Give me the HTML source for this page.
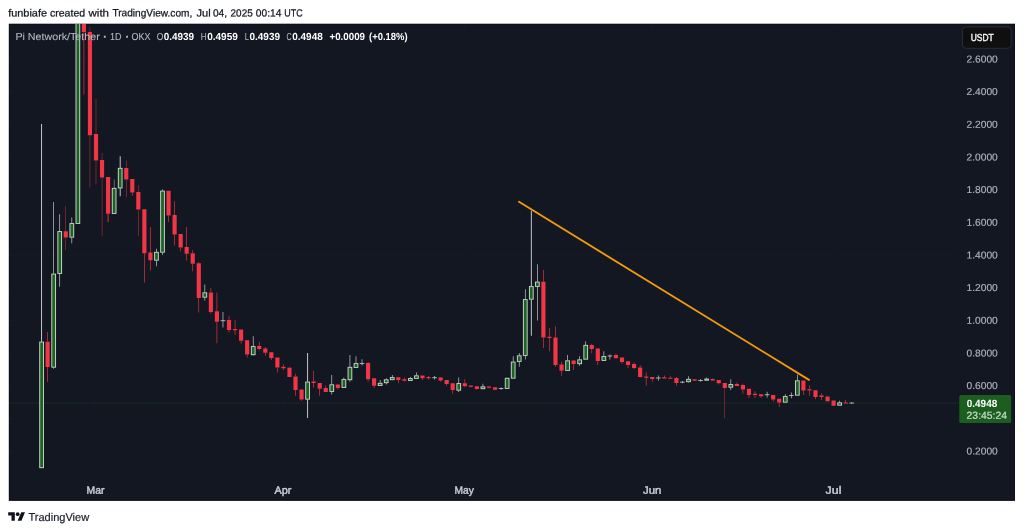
<!DOCTYPE html>
<html lang="en"><head><meta charset="utf-8"><title>PIUSDT chart</title>
<style>html,body{margin:0;padding:0;background:#fff;}body{width:1024px;height:532px;overflow:hidden;position:relative;}svg{display:block;position:absolute;left:0;top:0;}text{font-family:'Liberation Sans', Arial, sans-serif;}</style>
</head><body>
<svg width="1024" height="532" viewBox="0 0 1024 532">
<rect x="0" y="0" width="1024" height="532" fill="#ffffff"/>
<rect x="8.8" y="23.7" width="1006.2" height="477.2" fill="#0c0f19"/>
<rect x="9.8" y="24.7" width="1004.2" height="475.2" fill="#131722"/>
<clipPath id="cp"><rect x="9" y="24" width="1006" height="477"/></clipPath>
<text x="8.20" y="16.40" transform="rotate(0.04 27.6 16.4)" font-size="10.4" fill="#131722" font-weight="normal" stroke="#131722" stroke-width="0.25" textLength="38.80" lengthAdjust="spacingAndGlyphs">funbiafe</text>
<text x="49.90" y="16.40" transform="rotate(0.04 67.5 16.4)" font-size="10.4" fill="#131722" font-weight="normal" stroke="#131722" stroke-width="0.25" textLength="35.30" lengthAdjust="spacingAndGlyphs">created</text>
<text x="88.60" y="16.40" transform="rotate(0.04 98.8 16.4)" font-size="10.4" fill="#131722" font-weight="normal" stroke="#131722" stroke-width="0.25" textLength="20.40" lengthAdjust="spacingAndGlyphs">with</text>
<text x="112.40" y="16.40" transform="rotate(0.04 152.3 16.4)" font-size="10.4" fill="#131722" font-weight="normal" stroke="#131722" stroke-width="0.25" textLength="79.90" lengthAdjust="spacingAndGlyphs">TradingView.com,</text>
<text x="196.50" y="16.40" transform="rotate(0.04 203.6 16.4)" font-size="10.4" fill="#131722" font-weight="normal" stroke="#131722" stroke-width="0.25" textLength="14.10" lengthAdjust="spacingAndGlyphs">Jul</text>
<text x="212.90" y="16.40" transform="rotate(0.04 219.9 16.4)" font-size="10.4" fill="#131722" font-weight="normal" stroke="#131722" stroke-width="0.25" textLength="14.10" lengthAdjust="spacingAndGlyphs">04,</text>
<text x="230.60" y="16.40" transform="rotate(0.04 241.7 16.4)" font-size="10.4" fill="#131722" font-weight="normal" stroke="#131722" stroke-width="0.25" textLength="22.10" lengthAdjust="spacingAndGlyphs">2025</text>
<text x="255.85" y="16.40" transform="rotate(0.04 268.6 16.4)" font-size="10.4" fill="#131722" font-weight="normal" stroke="#131722" stroke-width="0.25" textLength="25.55" lengthAdjust="spacingAndGlyphs">00:14</text>
<text x="284.30" y="16.40" transform="rotate(0.04 293.5 16.4)" font-size="10.4" fill="#131722" font-weight="normal" stroke="#131722" stroke-width="0.25" textLength="18.40" lengthAdjust="spacingAndGlyphs">UTC</text>
<g clip-path="url(#cp)">
<rect x="9" y="58.75" width="948" height="1" fill="#161a26"/>
<rect x="9" y="91.42" width="948" height="1" fill="#161a26"/>
<rect x="9" y="124.09" width="948" height="1" fill="#161a26"/>
<rect x="9" y="156.76" width="948" height="1" fill="#161a26"/>
<rect x="9" y="189.43" width="948" height="1" fill="#161a26"/>
<rect x="9" y="222.10" width="948" height="1" fill="#161a26"/>
<rect x="9" y="254.77" width="948" height="1" fill="#161a26"/>
<rect x="9" y="287.44" width="948" height="1" fill="#161a26"/>
<rect x="9" y="320.11" width="948" height="1" fill="#161a26"/>
<rect x="9" y="352.78" width="948" height="1" fill="#161a26"/>
<rect x="9" y="385.45" width="948" height="1" fill="#161a26"/>
<rect x="9" y="418.12" width="948" height="1" fill="#161a26"/>
<rect x="9" y="450.79" width="948" height="1" fill="#161a26"/>
<rect x="95.30" y="24" width="1" height="456" fill="#161a26"/>
<rect x="282.80" y="24" width="1" height="456" fill="#161a26"/>
<rect x="464.30" y="24" width="1" height="456" fill="#161a26"/>
<rect x="651.80" y="24" width="1" height="456" fill="#161a26"/>
<rect x="833.30" y="24" width="1" height="456" fill="#161a26"/>
<line x1="9" y1="403.1" x2="959" y2="403.1" stroke="#1b3a28" stroke-width="1" stroke-dasharray="1.1 0.8"/>
<rect x="41.14" y="124.00" width="0.90" height="217.75" fill="#d4d7dd"/>
<rect x="39.24" y="341.60" width="4.70" height="126.55" fill="#c9d6cb"/>
<rect x="40.19" y="342.50" width="2.80" height="124.75" fill="#1c6322"/>
<rect x="47.31" y="332.00" width="0.64" height="9.75" fill="#f23645"/>
<rect x="47.31" y="367.00" width="0.64" height="15.00" fill="#f23645"/>
<rect x="45.56" y="341.75" width="4.15" height="25.25" fill="#f23645"/>
<rect x="53.36" y="202.00" width="0.64" height="71.75" fill="#d4d7dd"/>
<rect x="53.36" y="367.50" width="0.64" height="1.25" fill="#d4d7dd"/>
<rect x="51.33" y="273.60" width="4.70" height="94.05" fill="#c9d6cb"/>
<rect x="52.28" y="274.50" width="2.80" height="92.25" fill="#1c6322"/>
<rect x="59.40" y="214.25" width="0.64" height="17.00" fill="#d4d7dd"/>
<rect x="59.40" y="273.75" width="0.64" height="13.00" fill="#d4d7dd"/>
<rect x="57.37" y="231.10" width="4.70" height="42.80" fill="#c9d6cb"/>
<rect x="58.32" y="232.00" width="2.80" height="41.00" fill="#1c6322"/>
<rect x="65.56" y="206.25" width="0.42" height="25.00" fill="#f23645"/>
<rect x="65.56" y="237.50" width="0.42" height="12.50" fill="#f23645"/>
<rect x="63.69" y="231.25" width="4.15" height="6.25" fill="#f23645"/>
<rect x="71.50" y="217.50" width="0.64" height="5.75" fill="#d4d7dd"/>
<rect x="71.50" y="237.50" width="0.64" height="5.75" fill="#d4d7dd"/>
<rect x="69.47" y="223.10" width="4.70" height="14.55" fill="#c9d6cb"/>
<rect x="70.42" y="224.00" width="2.80" height="12.75" fill="#1c6322"/>
<rect x="75.51" y="19.85" width="4.70" height="204.05" fill="#c9d6cb"/>
<rect x="76.46" y="20.75" width="2.80" height="202.25" fill="#1c6322"/>
<rect x="83.59" y="32.00" width="0.64" height="62.75" fill="#f23645"/>
<rect x="81.83" y="20.00" width="4.15" height="12.00" fill="#f23645"/>
<rect x="89.74" y="27.00" width="0.42" height="5.00" fill="#f23645"/>
<rect x="89.74" y="135.25" width="0.42" height="52.25" fill="#f23645"/>
<rect x="87.88" y="32.00" width="4.15" height="103.25" fill="#f23645"/>
<rect x="95.79" y="99.00" width="0.42" height="35.00" fill="#f23645"/>
<rect x="95.79" y="160.50" width="0.42" height="24.00" fill="#f23645"/>
<rect x="93.92" y="134.00" width="4.15" height="26.50" fill="#f23645"/>
<rect x="101.84" y="153.00" width="0.42" height="7.00" fill="#f23645"/>
<rect x="101.84" y="177.50" width="0.42" height="58.50" fill="#f23645"/>
<rect x="99.97" y="160.00" width="4.15" height="17.50" fill="#f23645"/>
<rect x="107.64" y="213.75" width="0.90" height="8.25" fill="#f23645"/>
<rect x="106.02" y="177.00" width="4.15" height="36.75" fill="#f23645"/>
<rect x="113.93" y="179.50" width="0.42" height="8.50" fill="#d4d7dd"/>
<rect x="111.79" y="187.85" width="4.70" height="26.05" fill="#c9d6cb"/>
<rect x="112.74" y="188.75" width="2.80" height="24.25" fill="#1c6322"/>
<rect x="119.73" y="156.25" width="0.90" height="11.75" fill="#d4d7dd"/>
<rect x="119.73" y="188.25" width="0.90" height="8.00" fill="#d4d7dd"/>
<rect x="117.83" y="167.85" width="4.70" height="20.55" fill="#c9d6cb"/>
<rect x="118.78" y="168.75" width="2.80" height="18.75" fill="#1c6322"/>
<rect x="126.02" y="160.50" width="0.42" height="7.50" fill="#f23645"/>
<rect x="126.02" y="179.50" width="0.42" height="18.00" fill="#f23645"/>
<rect x="124.16" y="168.00" width="4.15" height="11.50" fill="#f23645"/>
<rect x="131.96" y="192.50" width="0.64" height="3.25" fill="#f23645"/>
<rect x="130.20" y="179.00" width="4.15" height="13.50" fill="#f23645"/>
<rect x="138.11" y="185.00" width="0.42" height="7.00" fill="#f23645"/>
<rect x="138.11" y="209.50" width="0.42" height="26.75" fill="#f23645"/>
<rect x="136.25" y="192.00" width="4.15" height="17.50" fill="#f23645"/>
<rect x="144.05" y="253.25" width="0.64" height="29.25" fill="#f23645"/>
<rect x="142.29" y="209.25" width="4.15" height="44.00" fill="#f23645"/>
<rect x="150.09" y="227.00" width="0.64" height="25.50" fill="#f23645"/>
<rect x="150.09" y="260.25" width="0.64" height="10.25" fill="#f23645"/>
<rect x="148.34" y="252.50" width="4.15" height="7.75" fill="#f23645"/>
<rect x="156.14" y="248.75" width="0.64" height="3.25" fill="#d4d7dd"/>
<rect x="156.14" y="260.50" width="0.64" height="5.75" fill="#d4d7dd"/>
<rect x="154.11" y="251.85" width="4.70" height="8.80" fill="#c9d6cb"/>
<rect x="155.06" y="252.75" width="2.80" height="7.00" fill="#1c6322"/>
<rect x="162.19" y="189.50" width="0.64" height="1.25" fill="#d4d7dd"/>
<rect x="162.19" y="252.50" width="0.64" height="2.50" fill="#d4d7dd"/>
<rect x="160.16" y="190.60" width="4.70" height="62.05" fill="#c9d6cb"/>
<rect x="161.11" y="191.50" width="2.80" height="60.25" fill="#1c6322"/>
<rect x="168.23" y="215.50" width="0.64" height="6.50" fill="#f23645"/>
<rect x="166.48" y="190.75" width="4.15" height="24.75" fill="#f23645"/>
<rect x="174.28" y="201.25" width="0.64" height="13.75" fill="#f23645"/>
<rect x="174.28" y="234.50" width="0.64" height="11.00" fill="#f23645"/>
<rect x="172.52" y="215.00" width="4.15" height="19.50" fill="#f23645"/>
<rect x="180.32" y="247.50" width="0.64" height="3.75" fill="#f23645"/>
<rect x="178.57" y="234.00" width="4.15" height="13.50" fill="#f23645"/>
<rect x="186.37" y="227.00" width="0.64" height="20.00" fill="#f23645"/>
<rect x="186.37" y="253.75" width="0.64" height="6.75" fill="#f23645"/>
<rect x="184.62" y="247.00" width="4.15" height="6.75" fill="#f23645"/>
<rect x="192.42" y="250.00" width="0.64" height="3.25" fill="#f23645"/>
<rect x="192.42" y="263.75" width="0.64" height="7.50" fill="#f23645"/>
<rect x="190.66" y="253.25" width="4.15" height="10.50" fill="#f23645"/>
<rect x="198.46" y="262.00" width="0.64" height="1.25" fill="#f23645"/>
<rect x="198.46" y="298.00" width="0.64" height="14.50" fill="#f23645"/>
<rect x="196.71" y="263.25" width="4.15" height="34.75" fill="#f23645"/>
<rect x="204.51" y="284.50" width="0.64" height="8.00" fill="#d4d7dd"/>
<rect x="204.51" y="297.50" width="0.64" height="3.00" fill="#d4d7dd"/>
<rect x="202.48" y="292.35" width="4.70" height="5.30" fill="#c9d6cb"/>
<rect x="203.43" y="293.25" width="2.80" height="3.50" fill="#1c6322"/>
<rect x="210.55" y="288.00" width="0.64" height="4.50" fill="#f23645"/>
<rect x="210.55" y="312.00" width="0.64" height="1.75" fill="#f23645"/>
<rect x="208.80" y="292.50" width="4.15" height="19.50" fill="#f23645"/>
<rect x="216.60" y="292.50" width="0.64" height="18.75" fill="#f23645"/>
<rect x="216.60" y="321.75" width="0.64" height="21.50" fill="#f23645"/>
<rect x="214.85" y="311.25" width="4.15" height="10.50" fill="#f23645"/>
<rect x="222.65" y="312.00" width="0.64" height="8.00" fill="#d4d7dd"/>
<rect x="222.65" y="321.50" width="0.64" height="6.00" fill="#d4d7dd"/>
<rect x="222.65" y="319.90" width="0.64" height="1.70" fill="#d4d7dd"/>
<rect x="220.62" y="320.35" width="4.70" height="0.80" fill="#c9d6cb"/>
<rect x="228.69" y="316.25" width="0.64" height="3.75" fill="#f23645"/>
<rect x="228.69" y="330.00" width="0.64" height="2.50" fill="#f23645"/>
<rect x="226.94" y="320.00" width="4.15" height="10.00" fill="#f23645"/>
<rect x="234.74" y="320.00" width="0.64" height="9.00" fill="#f23645"/>
<rect x="234.74" y="330.25" width="0.64" height="4.75" fill="#f23645"/>
<rect x="232.98" y="329.00" width="4.15" height="1.25" fill="#f23645"/>
<rect x="240.78" y="340.75" width="0.64" height="3.00" fill="#f23645"/>
<rect x="239.03" y="329.50" width="4.15" height="11.25" fill="#f23645"/>
<rect x="246.83" y="354.50" width="0.64" height="3.00" fill="#f23645"/>
<rect x="245.08" y="340.25" width="4.15" height="14.25" fill="#f23645"/>
<rect x="252.88" y="336.25" width="0.64" height="10.00" fill="#d4d7dd"/>
<rect x="252.88" y="355.00" width="0.64" height="0.50" fill="#d4d7dd"/>
<rect x="250.85" y="346.10" width="4.70" height="9.05" fill="#c9d6cb"/>
<rect x="251.80" y="347.00" width="2.80" height="7.25" fill="#1c6322"/>
<rect x="258.92" y="341.75" width="0.64" height="4.25" fill="#f23645"/>
<rect x="258.92" y="349.00" width="0.64" height="1.50" fill="#f23645"/>
<rect x="257.17" y="346.00" width="4.15" height="3.00" fill="#f23645"/>
<rect x="264.97" y="347.00" width="0.64" height="1.50" fill="#f23645"/>
<rect x="264.97" y="352.75" width="0.64" height="3.00" fill="#f23645"/>
<rect x="263.21" y="348.50" width="4.15" height="4.25" fill="#f23645"/>
<rect x="271.01" y="358.00" width="0.64" height="2.00" fill="#f23645"/>
<rect x="269.26" y="352.25" width="4.15" height="5.75" fill="#f23645"/>
<rect x="277.06" y="367.50" width="0.64" height="5.00" fill="#f23645"/>
<rect x="275.31" y="357.50" width="4.15" height="10.00" fill="#f23645"/>
<rect x="283.11" y="364.50" width="0.64" height="2.25" fill="#f23645"/>
<rect x="283.11" y="368.25" width="0.64" height="1.75" fill="#f23645"/>
<rect x="281.35" y="366.75" width="4.15" height="1.50" fill="#f23645"/>
<rect x="289.15" y="366.75" width="0.64" height="1.00" fill="#f23645"/>
<rect x="287.40" y="367.75" width="4.15" height="9.25" fill="#f23645"/>
<rect x="295.20" y="373.75" width="0.64" height="2.75" fill="#f23645"/>
<rect x="295.20" y="390.00" width="0.64" height="5.75" fill="#f23645"/>
<rect x="293.44" y="376.50" width="4.15" height="13.50" fill="#f23645"/>
<rect x="301.24" y="399.50" width="0.64" height="1.25" fill="#f23645"/>
<rect x="299.49" y="389.50" width="4.15" height="10.00" fill="#f23645"/>
<rect x="307.16" y="353.00" width="0.90" height="28.75" fill="#d4d7dd"/>
<rect x="307.16" y="399.50" width="0.90" height="18.50" fill="#d4d7dd"/>
<rect x="305.26" y="381.60" width="4.70" height="18.05" fill="#c9d6cb"/>
<rect x="306.21" y="382.50" width="2.80" height="16.25" fill="#1c6322"/>
<rect x="313.34" y="370.75" width="0.64" height="10.75" fill="#f23645"/>
<rect x="313.34" y="383.00" width="0.64" height="4.75" fill="#f23645"/>
<rect x="311.58" y="381.50" width="4.15" height="1.50" fill="#f23645"/>
<rect x="319.38" y="388.75" width="0.64" height="7.00" fill="#f23645"/>
<rect x="317.63" y="383.00" width="4.15" height="5.75" fill="#f23645"/>
<rect x="325.43" y="385.50" width="0.64" height="2.50" fill="#f23645"/>
<rect x="323.67" y="388.00" width="4.15" height="4.00" fill="#f23645"/>
<rect x="331.47" y="375.00" width="0.64" height="9.50" fill="#d4d7dd"/>
<rect x="331.47" y="391.75" width="0.64" height="2.75" fill="#d4d7dd"/>
<rect x="329.44" y="384.35" width="4.70" height="7.55" fill="#c9d6cb"/>
<rect x="330.39" y="385.25" width="2.80" height="5.75" fill="#1c6322"/>
<rect x="337.52" y="388.00" width="0.64" height="1.50" fill="#f23645"/>
<rect x="335.77" y="384.50" width="4.15" height="3.50" fill="#f23645"/>
<rect x="343.57" y="377.50" width="0.64" height="1.75" fill="#d4d7dd"/>
<rect x="341.54" y="379.10" width="4.70" height="8.80" fill="#c9d6cb"/>
<rect x="342.49" y="380.00" width="2.80" height="7.00" fill="#1c6322"/>
<rect x="349.61" y="355.00" width="0.64" height="12.00" fill="#d4d7dd"/>
<rect x="349.61" y="380.00" width="0.64" height="1.75" fill="#d4d7dd"/>
<rect x="347.58" y="366.85" width="4.70" height="13.30" fill="#c9d6cb"/>
<rect x="348.53" y="367.75" width="2.80" height="11.50" fill="#1c6322"/>
<rect x="355.66" y="356.25" width="0.64" height="7.00" fill="#d4d7dd"/>
<rect x="353.63" y="363.10" width="4.70" height="4.80" fill="#c9d6cb"/>
<rect x="354.58" y="364.00" width="2.80" height="3.00" fill="#1c6322"/>
<rect x="361.70" y="359.25" width="0.64" height="3.75" fill="#d4d7dd"/>
<rect x="361.70" y="364.00" width="0.64" height="1.50" fill="#d4d7dd"/>
<rect x="361.70" y="362.90" width="0.64" height="1.20" fill="#d4d7dd"/>
<rect x="359.67" y="363.10" width="4.70" height="0.80" fill="#c9d6cb"/>
<rect x="367.75" y="362.00" width="0.64" height="1.00" fill="#f23645"/>
<rect x="367.75" y="379.25" width="0.64" height="2.50" fill="#f23645"/>
<rect x="366.00" y="363.00" width="4.15" height="16.25" fill="#f23645"/>
<rect x="373.80" y="385.75" width="0.64" height="2.25" fill="#f23645"/>
<rect x="372.04" y="378.25" width="4.15" height="7.50" fill="#f23645"/>
<rect x="379.84" y="380.00" width="0.64" height="3.00" fill="#d4d7dd"/>
<rect x="377.81" y="382.85" width="4.70" height="3.05" fill="#c9d6cb"/>
<rect x="378.76" y="383.75" width="2.80" height="1.25" fill="#1c6322"/>
<rect x="385.89" y="378.25" width="0.64" height="1.25" fill="#d4d7dd"/>
<rect x="385.89" y="383.00" width="0.64" height="1.50" fill="#d4d7dd"/>
<rect x="383.86" y="379.35" width="4.70" height="3.80" fill="#c9d6cb"/>
<rect x="384.81" y="380.25" width="2.80" height="2.00" fill="#1c6322"/>
<rect x="391.93" y="375.00" width="0.64" height="2.25" fill="#d4d7dd"/>
<rect x="389.90" y="377.10" width="4.70" height="3.05" fill="#c9d6cb"/>
<rect x="390.85" y="378.00" width="2.80" height="1.25" fill="#1c6322"/>
<rect x="397.98" y="380.00" width="0.64" height="3.00" fill="#f23645"/>
<rect x="396.23" y="377.25" width="4.15" height="2.75" fill="#f23645"/>
<rect x="404.03" y="377.50" width="0.64" height="1.75" fill="#f23645"/>
<rect x="404.03" y="380.75" width="0.64" height="0.75" fill="#f23645"/>
<rect x="402.27" y="379.25" width="4.15" height="1.50" fill="#f23645"/>
<rect x="410.07" y="377.00" width="0.64" height="1.25" fill="#d4d7dd"/>
<rect x="408.04" y="378.10" width="4.70" height="2.80" fill="#c9d6cb"/>
<rect x="408.99" y="379.00" width="2.80" height="1.00" fill="#1c6322"/>
<rect x="416.12" y="372.50" width="0.64" height="3.00" fill="#d4d7dd"/>
<rect x="414.09" y="375.35" width="4.70" height="3.55" fill="#c9d6cb"/>
<rect x="415.04" y="376.25" width="2.80" height="1.75" fill="#1c6322"/>
<rect x="422.16" y="378.25" width="0.64" height="1.75" fill="#f23645"/>
<rect x="420.41" y="375.50" width="4.15" height="2.75" fill="#f23645"/>
<rect x="428.21" y="376.00" width="0.64" height="1.00" fill="#f23645"/>
<rect x="428.21" y="378.25" width="0.64" height="1.25" fill="#f23645"/>
<rect x="426.46" y="377.00" width="4.15" height="1.25" fill="#f23645"/>
<rect x="434.26" y="376.00" width="0.64" height="1.25" fill="#d4d7dd"/>
<rect x="434.26" y="378.25" width="0.64" height="1.25" fill="#d4d7dd"/>
<rect x="434.26" y="377.15" width="0.64" height="1.20" fill="#d4d7dd"/>
<rect x="432.23" y="377.35" width="4.70" height="0.80" fill="#c9d6cb"/>
<rect x="440.30" y="377.00" width="0.64" height="0.50" fill="#f23645"/>
<rect x="440.30" y="380.50" width="0.64" height="1.25" fill="#f23645"/>
<rect x="438.55" y="377.50" width="4.15" height="3.00" fill="#f23645"/>
<rect x="446.35" y="384.00" width="0.64" height="1.75" fill="#f23645"/>
<rect x="444.59" y="380.00" width="4.15" height="4.00" fill="#f23645"/>
<rect x="452.39" y="390.00" width="0.64" height="3.75" fill="#f23645"/>
<rect x="450.64" y="383.25" width="4.15" height="6.75" fill="#f23645"/>
<rect x="458.44" y="377.50" width="0.64" height="5.75" fill="#d4d7dd"/>
<rect x="458.44" y="390.50" width="0.64" height="1.50" fill="#d4d7dd"/>
<rect x="456.41" y="383.10" width="4.70" height="7.55" fill="#c9d6cb"/>
<rect x="457.36" y="384.00" width="2.80" height="5.75" fill="#1c6322"/>
<rect x="464.49" y="379.25" width="0.64" height="4.00" fill="#f23645"/>
<rect x="464.49" y="386.25" width="0.64" height="0.75" fill="#f23645"/>
<rect x="462.73" y="383.25" width="4.15" height="3.00" fill="#f23645"/>
<rect x="470.53" y="385.00" width="0.64" height="0.50" fill="#f23645"/>
<rect x="470.53" y="386.75" width="0.64" height="0.75" fill="#f23645"/>
<rect x="468.78" y="385.50" width="4.15" height="1.25" fill="#f23645"/>
<rect x="476.58" y="389.00" width="0.64" height="0.50" fill="#f23645"/>
<rect x="474.82" y="386.25" width="4.15" height="2.75" fill="#f23645"/>
<rect x="482.62" y="383.75" width="0.64" height="2.75" fill="#d4d7dd"/>
<rect x="480.59" y="386.35" width="4.70" height="2.80" fill="#c9d6cb"/>
<rect x="481.54" y="387.25" width="2.80" height="1.00" fill="#1c6322"/>
<rect x="488.67" y="386.00" width="0.64" height="0.50" fill="#f23645"/>
<rect x="488.67" y="387.75" width="0.64" height="0.75" fill="#f23645"/>
<rect x="486.92" y="386.50" width="4.15" height="1.25" fill="#f23645"/>
<rect x="494.72" y="389.75" width="0.64" height="0.50" fill="#f23645"/>
<rect x="492.96" y="387.25" width="4.15" height="2.50" fill="#f23645"/>
<rect x="500.76" y="387.50" width="0.64" height="0.50" fill="#d4d7dd"/>
<rect x="500.76" y="389.00" width="0.64" height="0.75" fill="#d4d7dd"/>
<rect x="500.76" y="387.90" width="0.64" height="1.20" fill="#d4d7dd"/>
<rect x="498.73" y="388.10" width="4.70" height="0.80" fill="#c9d6cb"/>
<rect x="506.81" y="377.50" width="0.64" height="0.50" fill="#d4d7dd"/>
<rect x="504.78" y="377.85" width="4.70" height="11.05" fill="#c9d6cb"/>
<rect x="505.73" y="378.75" width="2.80" height="9.25" fill="#1c6322"/>
<rect x="512.85" y="356.25" width="0.64" height="5.50" fill="#d4d7dd"/>
<rect x="510.82" y="361.60" width="4.70" height="17.05" fill="#c9d6cb"/>
<rect x="511.77" y="362.50" width="2.80" height="15.25" fill="#1c6322"/>
<rect x="518.90" y="353.00" width="0.64" height="2.50" fill="#d4d7dd"/>
<rect x="518.90" y="361.75" width="0.64" height="5.00" fill="#d4d7dd"/>
<rect x="516.87" y="355.35" width="4.70" height="6.55" fill="#c9d6cb"/>
<rect x="517.82" y="356.25" width="2.80" height="4.75" fill="#1c6322"/>
<rect x="524.95" y="289.25" width="0.64" height="10.00" fill="#d4d7dd"/>
<rect x="524.95" y="355.75" width="0.64" height="3.75" fill="#d4d7dd"/>
<rect x="522.92" y="299.10" width="4.70" height="56.80" fill="#c9d6cb"/>
<rect x="523.87" y="300.00" width="2.80" height="55.00" fill="#1c6322"/>
<rect x="530.86" y="210.75" width="0.90" height="75.50" fill="#d4d7dd"/>
<rect x="530.86" y="299.50" width="0.90" height="36.25" fill="#d4d7dd"/>
<rect x="528.96" y="286.10" width="4.70" height="13.55" fill="#c9d6cb"/>
<rect x="529.91" y="287.00" width="2.80" height="11.75" fill="#1c6322"/>
<rect x="537.04" y="264.25" width="0.64" height="17.50" fill="#d4d7dd"/>
<rect x="537.04" y="286.75" width="0.64" height="33.75" fill="#d4d7dd"/>
<rect x="535.01" y="281.60" width="4.70" height="5.30" fill="#c9d6cb"/>
<rect x="535.96" y="282.50" width="2.80" height="3.50" fill="#1c6322"/>
<rect x="543.08" y="270.00" width="0.64" height="11.75" fill="#f23645"/>
<rect x="543.08" y="337.50" width="0.64" height="10.50" fill="#f23645"/>
<rect x="541.33" y="281.75" width="4.15" height="55.75" fill="#f23645"/>
<rect x="549.13" y="328.00" width="0.64" height="8.75" fill="#f23645"/>
<rect x="549.13" y="338.00" width="0.64" height="13.25" fill="#f23645"/>
<rect x="547.38" y="336.75" width="4.15" height="1.25" fill="#f23645"/>
<rect x="555.18" y="326.25" width="0.64" height="11.25" fill="#f23645"/>
<rect x="555.18" y="365.00" width="0.64" height="1.75" fill="#f23645"/>
<rect x="553.42" y="337.50" width="4.15" height="27.50" fill="#f23645"/>
<rect x="561.22" y="361.75" width="0.64" height="2.75" fill="#f23645"/>
<rect x="561.22" y="370.75" width="0.64" height="5.00" fill="#f23645"/>
<rect x="559.47" y="364.50" width="4.15" height="6.25" fill="#f23645"/>
<rect x="567.27" y="355.00" width="0.64" height="5.50" fill="#d4d7dd"/>
<rect x="565.24" y="360.35" width="4.70" height="10.55" fill="#c9d6cb"/>
<rect x="566.19" y="361.25" width="2.80" height="8.75" fill="#1c6322"/>
<rect x="573.31" y="364.00" width="0.64" height="6.00" fill="#f23645"/>
<rect x="571.56" y="360.50" width="4.15" height="3.50" fill="#f23645"/>
<rect x="579.36" y="356.25" width="0.64" height="3.25" fill="#d4d7dd"/>
<rect x="579.36" y="364.00" width="0.64" height="1.75" fill="#d4d7dd"/>
<rect x="577.33" y="359.35" width="4.70" height="4.80" fill="#c9d6cb"/>
<rect x="578.28" y="360.25" width="2.80" height="3.00" fill="#1c6322"/>
<rect x="585.41" y="341.25" width="0.64" height="3.75" fill="#d4d7dd"/>
<rect x="583.38" y="344.85" width="4.70" height="14.80" fill="#c9d6cb"/>
<rect x="584.33" y="345.75" width="2.80" height="13.00" fill="#1c6322"/>
<rect x="591.45" y="343.75" width="0.64" height="1.25" fill="#f23645"/>
<rect x="591.45" y="349.00" width="0.64" height="4.25" fill="#f23645"/>
<rect x="589.70" y="345.00" width="4.15" height="4.00" fill="#f23645"/>
<rect x="597.50" y="361.00" width="0.64" height="4.00" fill="#f23645"/>
<rect x="595.74" y="348.50" width="4.15" height="12.50" fill="#f23645"/>
<rect x="603.54" y="351.25" width="0.64" height="5.00" fill="#d4d7dd"/>
<rect x="601.51" y="356.10" width="4.70" height="4.80" fill="#c9d6cb"/>
<rect x="602.46" y="357.00" width="2.80" height="3.00" fill="#1c6322"/>
<rect x="609.59" y="354.50" width="0.64" height="1.00" fill="#d4d7dd"/>
<rect x="609.59" y="356.50" width="0.64" height="3.00" fill="#d4d7dd"/>
<rect x="609.59" y="355.40" width="0.64" height="1.20" fill="#d4d7dd"/>
<rect x="607.56" y="355.60" width="4.70" height="0.80" fill="#c9d6cb"/>
<rect x="615.64" y="353.75" width="0.64" height="1.25" fill="#f23645"/>
<rect x="613.88" y="355.00" width="4.15" height="3.25" fill="#f23645"/>
<rect x="621.68" y="362.00" width="0.64" height="1.75" fill="#f23645"/>
<rect x="619.93" y="357.50" width="4.15" height="4.50" fill="#f23645"/>
<rect x="627.73" y="365.00" width="0.64" height="3.00" fill="#f23645"/>
<rect x="625.97" y="361.25" width="4.15" height="3.75" fill="#f23645"/>
<rect x="633.77" y="362.50" width="0.64" height="1.50" fill="#f23645"/>
<rect x="633.77" y="368.00" width="0.64" height="1.00" fill="#f23645"/>
<rect x="632.02" y="364.00" width="4.15" height="4.00" fill="#f23645"/>
<rect x="639.82" y="365.00" width="0.64" height="2.50" fill="#f23645"/>
<rect x="639.82" y="377.00" width="0.64" height="0.50" fill="#f23645"/>
<rect x="638.06" y="367.50" width="4.15" height="9.50" fill="#f23645"/>
<rect x="645.87" y="372.50" width="0.64" height="4.00" fill="#f23645"/>
<rect x="645.87" y="377.75" width="0.64" height="8.00" fill="#f23645"/>
<rect x="644.11" y="376.50" width="4.15" height="1.25" fill="#f23645"/>
<rect x="651.91" y="379.00" width="0.64" height="2.75" fill="#f23645"/>
<rect x="650.16" y="377.00" width="4.15" height="2.00" fill="#f23645"/>
<rect x="657.96" y="375.50" width="0.64" height="2.00" fill="#d4d7dd"/>
<rect x="657.96" y="378.50" width="0.64" height="2.25" fill="#d4d7dd"/>
<rect x="657.96" y="377.40" width="0.64" height="1.20" fill="#d4d7dd"/>
<rect x="655.93" y="377.60" width="4.70" height="0.80" fill="#c9d6cb"/>
<rect x="664.00" y="375.50" width="0.64" height="1.75" fill="#f23645"/>
<rect x="662.25" y="377.25" width="4.15" height="1.25" fill="#f23645"/>
<rect x="670.05" y="376.25" width="0.64" height="1.50" fill="#f23645"/>
<rect x="668.29" y="377.75" width="4.15" height="1.00" fill="#f23645"/>
<rect x="676.10" y="377.00" width="0.64" height="1.00" fill="#f23645"/>
<rect x="676.10" y="383.00" width="0.64" height="2.75" fill="#f23645"/>
<rect x="674.34" y="378.00" width="4.15" height="5.00" fill="#f23645"/>
<rect x="682.14" y="381.00" width="0.64" height="0.50" fill="#d4d7dd"/>
<rect x="682.14" y="382.75" width="0.64" height="0.50" fill="#d4d7dd"/>
<rect x="682.14" y="381.40" width="0.64" height="1.45" fill="#d4d7dd"/>
<rect x="680.11" y="381.73" width="4.70" height="0.80" fill="#c9d6cb"/>
<rect x="688.19" y="376.25" width="0.64" height="2.75" fill="#d4d7dd"/>
<rect x="688.19" y="382.00" width="0.64" height="0.50" fill="#d4d7dd"/>
<rect x="686.16" y="378.85" width="4.70" height="3.30" fill="#c9d6cb"/>
<rect x="687.11" y="379.75" width="2.80" height="1.50" fill="#1c6322"/>
<rect x="694.23" y="379.00" width="0.64" height="0.25" fill="#f23645"/>
<rect x="694.23" y="380.75" width="0.64" height="0.25" fill="#f23645"/>
<rect x="692.48" y="379.25" width="4.15" height="1.50" fill="#f23645"/>
<rect x="700.28" y="379.00" width="0.64" height="0.75" fill="#d4d7dd"/>
<rect x="700.28" y="381.00" width="0.64" height="0.50" fill="#d4d7dd"/>
<rect x="700.28" y="379.65" width="0.64" height="1.45" fill="#d4d7dd"/>
<rect x="698.25" y="379.98" width="4.70" height="0.80" fill="#c9d6cb"/>
<rect x="706.33" y="377.50" width="0.64" height="1.25" fill="#d4d7dd"/>
<rect x="704.30" y="378.60" width="4.70" height="2.05" fill="#c9d6cb"/>
<rect x="705.25" y="379.50" width="2.80" height="0.25" fill="#1c6322"/>
<rect x="712.37" y="378.50" width="0.64" height="0.50" fill="#f23645"/>
<rect x="712.37" y="380.50" width="0.64" height="0.25" fill="#f23645"/>
<rect x="710.62" y="379.00" width="4.15" height="1.50" fill="#f23645"/>
<rect x="718.42" y="383.25" width="0.64" height="1.25" fill="#f23645"/>
<rect x="716.66" y="380.00" width="4.15" height="3.25" fill="#f23645"/>
<rect x="724.57" y="388.00" width="0.42" height="30.00" fill="#f23645"/>
<rect x="722.71" y="383.00" width="4.15" height="5.00" fill="#f23645"/>
<rect x="730.51" y="379.25" width="0.64" height="5.00" fill="#d4d7dd"/>
<rect x="730.51" y="387.50" width="0.64" height="2.50" fill="#d4d7dd"/>
<rect x="728.48" y="384.10" width="4.70" height="3.55" fill="#c9d6cb"/>
<rect x="729.43" y="385.00" width="2.80" height="1.75" fill="#1c6322"/>
<rect x="736.56" y="382.50" width="0.64" height="1.50" fill="#f23645"/>
<rect x="736.56" y="386.00" width="0.64" height="0.25" fill="#f23645"/>
<rect x="734.80" y="384.00" width="4.15" height="2.00" fill="#f23645"/>
<rect x="742.60" y="383.75" width="0.64" height="1.25" fill="#f23645"/>
<rect x="742.60" y="389.50" width="0.64" height="4.25" fill="#f23645"/>
<rect x="740.85" y="385.00" width="4.15" height="4.50" fill="#f23645"/>
<rect x="748.65" y="395.00" width="0.64" height="3.00" fill="#f23645"/>
<rect x="746.89" y="388.75" width="4.15" height="6.25" fill="#f23645"/>
<rect x="754.69" y="391.25" width="0.64" height="2.50" fill="#f23645"/>
<rect x="754.69" y="395.00" width="0.64" height="3.00" fill="#f23645"/>
<rect x="752.94" y="393.75" width="4.15" height="1.25" fill="#f23645"/>
<rect x="760.74" y="394.00" width="0.64" height="0.25" fill="#f23645"/>
<rect x="760.74" y="396.25" width="0.64" height="1.75" fill="#f23645"/>
<rect x="758.99" y="394.25" width="4.15" height="2.00" fill="#f23645"/>
<rect x="766.79" y="391.75" width="0.64" height="2.50" fill="#d4d7dd"/>
<rect x="766.79" y="395.25" width="0.64" height="2.25" fill="#d4d7dd"/>
<rect x="766.79" y="394.15" width="0.64" height="1.20" fill="#d4d7dd"/>
<rect x="764.76" y="394.35" width="4.70" height="0.80" fill="#c9d6cb"/>
<rect x="772.83" y="399.50" width="0.64" height="2.25" fill="#f23645"/>
<rect x="771.08" y="395.00" width="4.15" height="4.50" fill="#f23645"/>
<rect x="778.88" y="402.50" width="0.64" height="4.50" fill="#f23645"/>
<rect x="777.12" y="398.75" width="4.15" height="3.75" fill="#f23645"/>
<rect x="784.92" y="394.25" width="0.64" height="2.00" fill="#d4d7dd"/>
<rect x="782.89" y="396.10" width="4.70" height="6.55" fill="#c9d6cb"/>
<rect x="783.84" y="397.00" width="2.80" height="4.75" fill="#1c6322"/>
<rect x="790.97" y="392.50" width="0.64" height="2.00" fill="#d4d7dd"/>
<rect x="790.97" y="396.25" width="0.64" height="2.00" fill="#d4d7dd"/>
<rect x="790.97" y="394.40" width="0.64" height="1.95" fill="#d4d7dd"/>
<rect x="788.94" y="394.98" width="4.70" height="0.80" fill="#c9d6cb"/>
<rect x="797.02" y="374.50" width="0.64" height="6.00" fill="#d4d7dd"/>
<rect x="794.99" y="380.35" width="4.70" height="15.30" fill="#c9d6cb"/>
<rect x="795.94" y="381.25" width="2.80" height="13.50" fill="#1c6322"/>
<rect x="803.06" y="390.50" width="0.64" height="4.50" fill="#f23645"/>
<rect x="801.31" y="380.50" width="4.15" height="10.00" fill="#f23645"/>
<rect x="809.11" y="385.50" width="0.64" height="3.75" fill="#f23645"/>
<rect x="809.11" y="390.50" width="0.64" height="5.25" fill="#f23645"/>
<rect x="807.35" y="389.25" width="4.15" height="1.25" fill="#f23645"/>
<rect x="815.15" y="397.00" width="0.64" height="2.25" fill="#f23645"/>
<rect x="813.40" y="390.25" width="4.15" height="6.75" fill="#f23645"/>
<rect x="821.20" y="393.25" width="0.64" height="2.25" fill="#f23645"/>
<rect x="821.20" y="397.00" width="0.64" height="3.00" fill="#f23645"/>
<rect x="819.44" y="395.50" width="4.15" height="1.50" fill="#f23645"/>
<rect x="827.25" y="401.25" width="0.64" height="0.25" fill="#f23645"/>
<rect x="825.49" y="396.50" width="4.15" height="4.75" fill="#f23645"/>
<rect x="831.54" y="400.50" width="4.15" height="5.25" fill="#f23645"/>
<rect x="839.34" y="400.75" width="0.64" height="1.75" fill="#d4d7dd"/>
<rect x="837.31" y="402.35" width="4.70" height="3.30" fill="#c9d6cb"/>
<rect x="838.26" y="403.25" width="2.80" height="1.50" fill="#1c6322"/>
<rect x="845.38" y="400.00" width="0.64" height="2.50" fill="#f23645"/>
<rect x="843.63" y="402.50" width="4.15" height="1.00" fill="#f23645"/>
<rect x="851.43" y="402.50" width="0.64" height="1.10" fill="#d4d7dd"/>
<rect x="849.40" y="402.65" width="4.70" height="0.80" fill="#c9d6cb"/>
<line x1="519.0" y1="201.8" x2="809.0" y2="379.9" stroke="#f59a08" stroke-width="1.85" stroke-linecap="round"/>
</g>
<text x="15.40" y="40.00" transform="rotate(0.04 57.5 40.0)" font-size="10.1" fill="#b4b7c0" font-weight="normal" stroke="#b4b7c0" stroke-width="0.1" textLength="84.30" lengthAdjust="spacingAndGlyphs">Pi Network/Tether</text>
<text x="103.00" y="41.00" transform="rotate(0.04 103.0 41.0)" font-size="13" fill="#b4b7c0" font-weight="bold">·</text>
<text x="110.10" y="40.00" transform="rotate(0.04 115.8 40.0)" font-size="10.1" fill="#b4b7c0" font-weight="normal" stroke="#b4b7c0" stroke-width="0.1" textLength="11.50" lengthAdjust="spacingAndGlyphs">1D</text>
<text x="125.20" y="41.00" transform="rotate(0.04 125.2 41.0)" font-size="13" fill="#b4b7c0" font-weight="bold">·</text>
<text x="131.60" y="40.00" transform="rotate(0.04 141.0 40.0)" font-size="10.1" fill="#b4b7c0" font-weight="normal" stroke="#b4b7c0" stroke-width="0.1" textLength="18.80" lengthAdjust="spacingAndGlyphs">OKX</text>
<text x="156.80" y="40.00" transform="rotate(0.04 160.1 40.0)" font-size="10.1" fill="#b4b7c0" font-weight="normal" stroke="#b4b7c0" stroke-width="0.1" textLength="6.60" lengthAdjust="spacingAndGlyphs">O</text>
<text x="163.80" y="40.00" transform="rotate(0.04 178.9 40.0)" font-size="10.3" fill="#ffffff" font-weight="bold" textLength="30.30" lengthAdjust="spacingAndGlyphs">0.4939</text>
<text x="200.80" y="40.00" transform="rotate(0.04 203.7 40.0)" font-size="10.1" fill="#b4b7c0" font-weight="normal" stroke="#b4b7c0" stroke-width="0.1" textLength="5.70" lengthAdjust="spacingAndGlyphs">H</text>
<text x="207.20" y="40.00" transform="rotate(0.04 222.5 40.0)" font-size="10.3" fill="#ffffff" font-weight="bold" textLength="30.60" lengthAdjust="spacingAndGlyphs">0.4959</text>
<text x="244.70" y="40.00" transform="rotate(0.04 246.8 40.0)" font-size="10.1" fill="#b4b7c0" font-weight="normal" stroke="#b4b7c0" stroke-width="0.1" textLength="4.20" lengthAdjust="spacingAndGlyphs">L</text>
<text x="249.50" y="40.00" transform="rotate(0.04 264.8 40.0)" font-size="10.3" fill="#ffffff" font-weight="bold" textLength="30.50" lengthAdjust="spacingAndGlyphs">0.4939</text>
<text x="286.50" y="40.00" transform="rotate(0.04 289.1 40.0)" font-size="10.1" fill="#b4b7c0" font-weight="normal" stroke="#b4b7c0" stroke-width="0.1" textLength="5.10" lengthAdjust="spacingAndGlyphs">C</text>
<text x="292.30" y="40.00" transform="rotate(0.04 307.5 40.0)" font-size="10.3" fill="#ffffff" font-weight="bold" textLength="30.40" lengthAdjust="spacingAndGlyphs">0.4948</text>
<text x="329.50" y="40.00" transform="rotate(0.04 347.2 40.0)" font-size="10.3" fill="#ffffff" font-weight="bold" textLength="35.50" lengthAdjust="spacingAndGlyphs">+0.0009</text>
<text x="369.00" y="40.00" transform="rotate(0.04 388.3 40.0)" font-size="10.3" fill="#ffffff" font-weight="bold" textLength="38.60" lengthAdjust="spacingAndGlyphs">(+0.18%)</text>
<rect x="962.5" y="26.9" width="48.7" height="21.4" rx="3.6" ry="3.6" fill="#0f0f0f" stroke="#2b2f3a" stroke-width="0.9"/>
<text x="970.80" y="41.00" transform="rotate(0.04 982.2 41.0)" font-size="10.2" fill="#f4f4f4" font-weight="normal" stroke="#f4f4f4" stroke-width="0.45" textLength="22.90" lengthAdjust="spacingAndGlyphs">USDT</text>
<text x="966.60" y="62.40" transform="rotate(0.04 982.2 62.4)" font-size="10" fill="#b2b5be" font-weight="normal" stroke="#b2b5be" stroke-width="0.15" textLength="31.20" lengthAdjust="spacingAndGlyphs">2.6000</text>
<text x="966.60" y="95.07" transform="rotate(0.04 982.2 95.1)" font-size="10" fill="#b2b5be" font-weight="normal" stroke="#b2b5be" stroke-width="0.15" textLength="31.20" lengthAdjust="spacingAndGlyphs">2.4000</text>
<text x="966.60" y="127.74" transform="rotate(0.04 982.2 127.7)" font-size="10" fill="#b2b5be" font-weight="normal" stroke="#b2b5be" stroke-width="0.15" textLength="31.20" lengthAdjust="spacingAndGlyphs">2.2000</text>
<text x="966.60" y="160.41" transform="rotate(0.04 982.2 160.4)" font-size="10" fill="#b2b5be" font-weight="normal" stroke="#b2b5be" stroke-width="0.15" textLength="31.20" lengthAdjust="spacingAndGlyphs">2.0000</text>
<text x="966.60" y="193.08" transform="rotate(0.04 982.2 193.1)" font-size="10" fill="#b2b5be" font-weight="normal" stroke="#b2b5be" stroke-width="0.15" textLength="31.20" lengthAdjust="spacingAndGlyphs">1.8000</text>
<text x="966.60" y="225.75" transform="rotate(0.04 982.2 225.8)" font-size="10" fill="#b2b5be" font-weight="normal" stroke="#b2b5be" stroke-width="0.15" textLength="31.20" lengthAdjust="spacingAndGlyphs">1.6000</text>
<text x="966.60" y="258.42" transform="rotate(0.04 982.2 258.4)" font-size="10" fill="#b2b5be" font-weight="normal" stroke="#b2b5be" stroke-width="0.15" textLength="31.20" lengthAdjust="spacingAndGlyphs">1.4000</text>
<text x="966.60" y="291.09" transform="rotate(0.04 982.2 291.1)" font-size="10" fill="#b2b5be" font-weight="normal" stroke="#b2b5be" stroke-width="0.15" textLength="31.20" lengthAdjust="spacingAndGlyphs">1.2000</text>
<text x="966.60" y="323.76" transform="rotate(0.04 982.2 323.8)" font-size="10" fill="#b2b5be" font-weight="normal" stroke="#b2b5be" stroke-width="0.15" textLength="31.20" lengthAdjust="spacingAndGlyphs">1.0000</text>
<text x="966.60" y="356.43" transform="rotate(0.04 982.2 356.4)" font-size="10" fill="#b2b5be" font-weight="normal" stroke="#b2b5be" stroke-width="0.15" textLength="31.20" lengthAdjust="spacingAndGlyphs">0.8000</text>
<text x="966.60" y="389.10" transform="rotate(0.04 982.2 389.1)" font-size="10" fill="#b2b5be" font-weight="normal" stroke="#b2b5be" stroke-width="0.15" textLength="31.20" lengthAdjust="spacingAndGlyphs">0.6000</text>
<text x="966.60" y="454.44" transform="rotate(0.04 982.2 454.4)" font-size="10" fill="#b2b5be" font-weight="normal" stroke="#b2b5be" stroke-width="0.15" textLength="31.20" lengthAdjust="spacingAndGlyphs">0.2000</text>
<rect x="959.3" y="395.1" width="51.9" height="27.9" rx="1.6" ry="1.6" fill="#1b5e20"/>
<text x="966.80" y="406.90" transform="rotate(0.04 982.0 406.9)" font-size="10.5" fill="#ffffff" font-weight="bold" textLength="30.40" lengthAdjust="spacingAndGlyphs">0.4948</text>
<text x="966.60" y="418.80" transform="rotate(0.04 986.8 418.8)" font-size="10.2" fill="#cfe3d1" font-weight="normal" stroke="#cfe3d1" stroke-width="0.15" textLength="40.40" lengthAdjust="spacingAndGlyphs">23:45:24</text>
<text x="86.60" y="493.80" transform="rotate(0.04 95.5 493.8)" font-size="10.6" fill="#c8cbd2" font-weight="normal" stroke="#c8cbd2" stroke-width="0.45" textLength="17.80" lengthAdjust="spacingAndGlyphs">Mar</text>
<text x="274.60" y="493.80" transform="rotate(0.04 283.0 493.8)" font-size="10.6" fill="#c8cbd2" font-weight="normal" stroke="#c8cbd2" stroke-width="0.45" textLength="16.80" lengthAdjust="spacingAndGlyphs">Apr</text>
<text x="454.55" y="493.80" transform="rotate(0.04 464.2 493.8)" font-size="10.6" fill="#c8cbd2" font-weight="normal" stroke="#c8cbd2" stroke-width="0.45" textLength="19.30" lengthAdjust="spacingAndGlyphs">May</text>
<text x="643.10" y="493.80" transform="rotate(0.04 652.2 493.8)" font-size="10.6" fill="#c8cbd2" font-weight="normal" stroke="#c8cbd2" stroke-width="0.45" textLength="18.30" lengthAdjust="spacingAndGlyphs">Jun</text>
<text x="825.60" y="493.80" transform="rotate(0.04 833.5 493.8)" font-size="10.6" fill="#c8cbd2" font-weight="normal" stroke="#c8cbd2" stroke-width="0.45" textLength="15.80" lengthAdjust="spacingAndGlyphs">Jul</text>
<g transform="translate(8.2,510.35) scale(0.473)" fill="#10131c"><path d="M14 22H7V11H0V4h14v18zM28 22h-8l7.5-18h8L28 22z"/><circle cx="20" cy="8" r="4"/></g>
<text x="28.40" y="520.90" transform="rotate(0.04 58.8 520.9)" font-size="11.2" fill="#1c1f2b" font-weight="normal" stroke="#1c1f2b" stroke-width="0.2" textLength="60.80" lengthAdjust="spacingAndGlyphs">TradingView</text>
</svg>
</body></html>
